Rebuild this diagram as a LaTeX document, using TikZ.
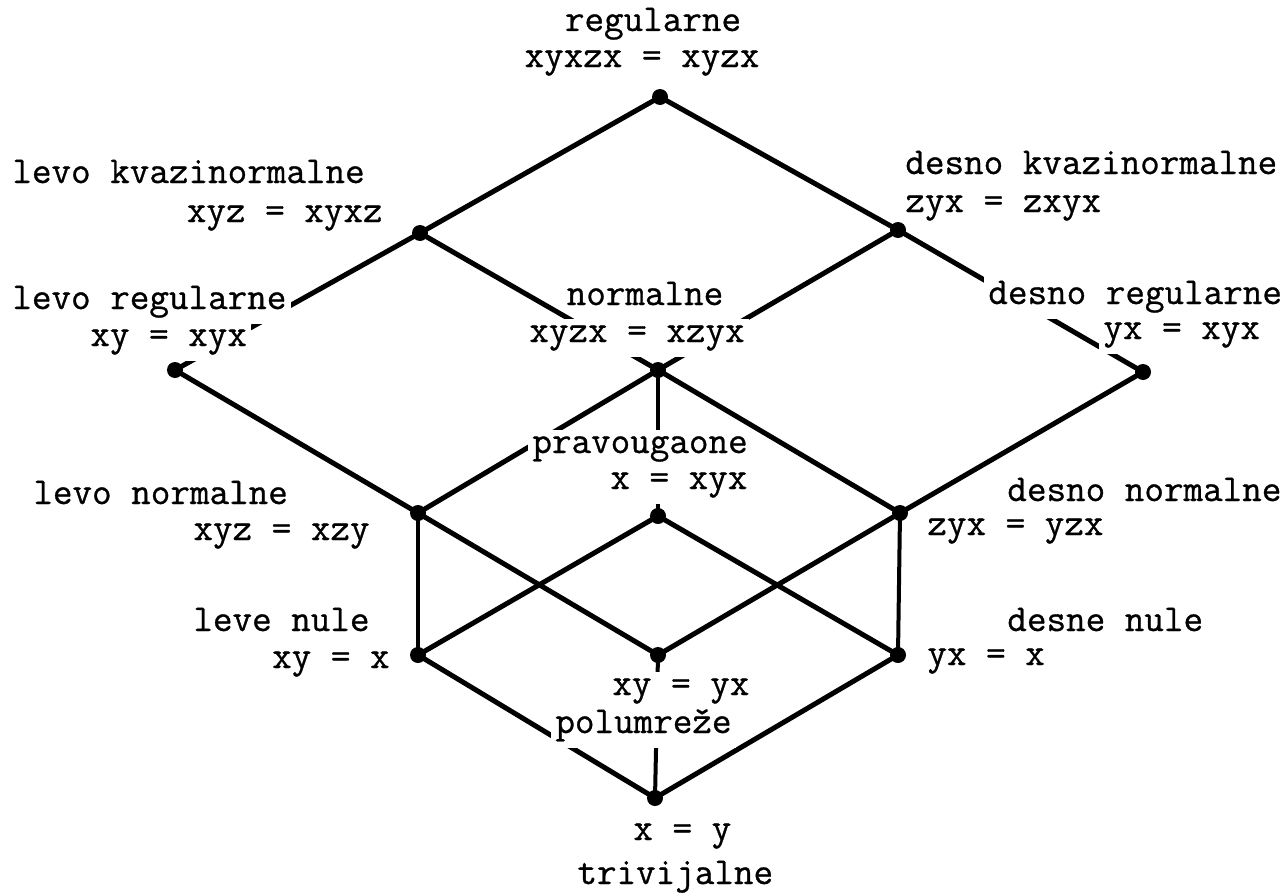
\documentclass[tikz,border=0pt]{standalone}
\usepackage{fontspec}
\newfontfamily\tw{Latin Modern Mono}[FakeBold=0.8]
\pgfdeclarelayer{background}
\pgfdeclarelayer{fills}
\pgfsetlayers{background,fills,main}
\begin{document}
\begin{tikzpicture}[x=0.5pt,y=-0.5pt,
  dot/.style={circle,fill=black,inner sep=0pt,minimum size=8pt},
  edge/.style={line width=2.5pt},
  vedge/.style={line width=2pt},
  lab/.style={font=\tw\fontsize{19}{21}\selectfont,inner xsep=2pt,inner ysep=0pt}]
\useasboundingbox (0,0) rectangle (1285,894);
% vertices
\node[dot] (top) at (660,97) {};
\node[dot] (lkn) at (420,233) {};
\node[dot] (dkn) at (898,230) {};
\node[dot] (lr)  at (175,370) {};
\node[dot] (nrm) at (658,370) {};
\node[dot] (dr)  at (1143,372) {};
\node[dot] (ln)  at (418,513) {};
\node[dot] (prv) at (658,516) {};
\node[dot] (dn)  at (900,513) {};
\node[dot] (lz)  at (418,655) {};
\node[dot] (sl)  at (658,655) {};
\node[dot] (dz)  at (898,655) {};
\node[dot] (tr)  at (655,798) {};
% edges
\begin{pgfonlayer}{background}
\draw[edge] (top.center) -- (lkn.center);
\draw[edge] (top.center) -- (dkn.center);
\draw[edge] (lkn.center) -- (lr.center);
\draw[edge] (lkn.center) -- (nrm.center);
\draw[edge] (dkn.center) -- (nrm.center);
\draw[edge] (dkn.center) -- (dr.center);
\draw[edge] (lr.center) -- (ln.center);
\draw[edge] (dr.center) -- (dn.center);
\draw[edge] (nrm.center) -- (ln.center);
\draw[edge] (nrm.center) -- (dn.center);
\draw[vedge] (nrm.center) -- (prv.center);
\draw[vedge] (ln.center) -- (lz.center);
\draw[vedge] (dn.center) -- (dz.center);
\draw[edge] (ln.center) -- (sl.center);
\draw[edge] (dn.center) -- (sl.center);
\draw[edge] (prv.center) -- (lz.center);
\draw[edge] (prv.center) -- (dz.center);
\draw[edge] (lz.center) -- (tr.center);
\draw[edge] (dz.center) -- (tr.center);
\draw[vedge] (sl.center) -- (tr.center);
\end{pgfonlayer}
% labels
\node[lab,anchor=base] (t1) at (653,31) {regularne};
\node[lab,anchor=base] (t2) at (642,67) {xyxzx = xyzx};
\node[lab,anchor=base west] (lkn1) at (8,183) {levo kvazinormalne};
\node[lab,anchor=base east] (lkn2) at (387,222) {xyz = xyxz};
\node[lab,anchor=base west] (lr1) at (8,309) {levo regularne};
\node[lab,anchor=base west] (lr2) at (86,346) {xy = xyx};
\node[lab,anchor=base] (n1) at (645,305) {normalne};
\node[lab,anchor=base] (n2) at (637,342) {xyzx = xzyx};
\node[lab,anchor=base west] (dkn1) at (901,174) {desno kvazinormalne};
\node[lab,anchor=base west] (dkn2) at (901,212) {zyx = zxyx};
\node[lab,anchor=base west] (dr1) at (984,304) {desno regularne};
\node[lab,anchor=base west] (dr2) at (1099,339) {yx = xyx};
\node[lab,anchor=base west] (p1) at (528,453) {pravougaone};
\node[lab,anchor=base west] (p2) at (606,489) {x = xyx};
\node[lab,anchor=base west] (ln1) at (29,504) {levo normalne};
\node[lab,anchor=base east] (ln2) at (374,540) {xyz = xzy};
\node[lab,anchor=base west] (lz1) at (189,631) {leve nule};
\node[lab,anchor=base east] (lz2) at (394,668) {xy = x};
\node[lab,anchor=base west] (dn1) at (1003,501) {desno normalne};
\node[lab,anchor=base west] (dn2) at (923,535) {zyx = yzx};
\node[lab,anchor=base west] (dz1) at (1003,631) {desne nule};
\node[lab,anchor=base west] (dz2) at (923,665) {yx = x};
\node[lab,anchor=base west] (s1) at (608,695) {xy = yx};
\node[lab,anchor=base west] (s2) at (551,733) {polumreže};
\node[lab,anchor=base west] (tr1) at (629,840) {x = y};
\node[lab,anchor=base west] (tr2) at (573,884) {trivijalne};
% white masks under the labels
\begin{pgfonlayer}{fills}
\foreach \n in {t1,t2,lkn1,lkn2,lr1,lr2,n1,n2,dkn1,dkn2,dr1,dr2,p1,p2,ln1,ln2,lz1,lz2,dn1,dn2,dz1,dz2,s1,s2,tr1,tr2}
  \fill[white] ([yshift=-3pt]\n.south west) rectangle ([yshift=3pt]\n.north east);
\end{pgfonlayer}
\end{tikzpicture}
\end{document}
